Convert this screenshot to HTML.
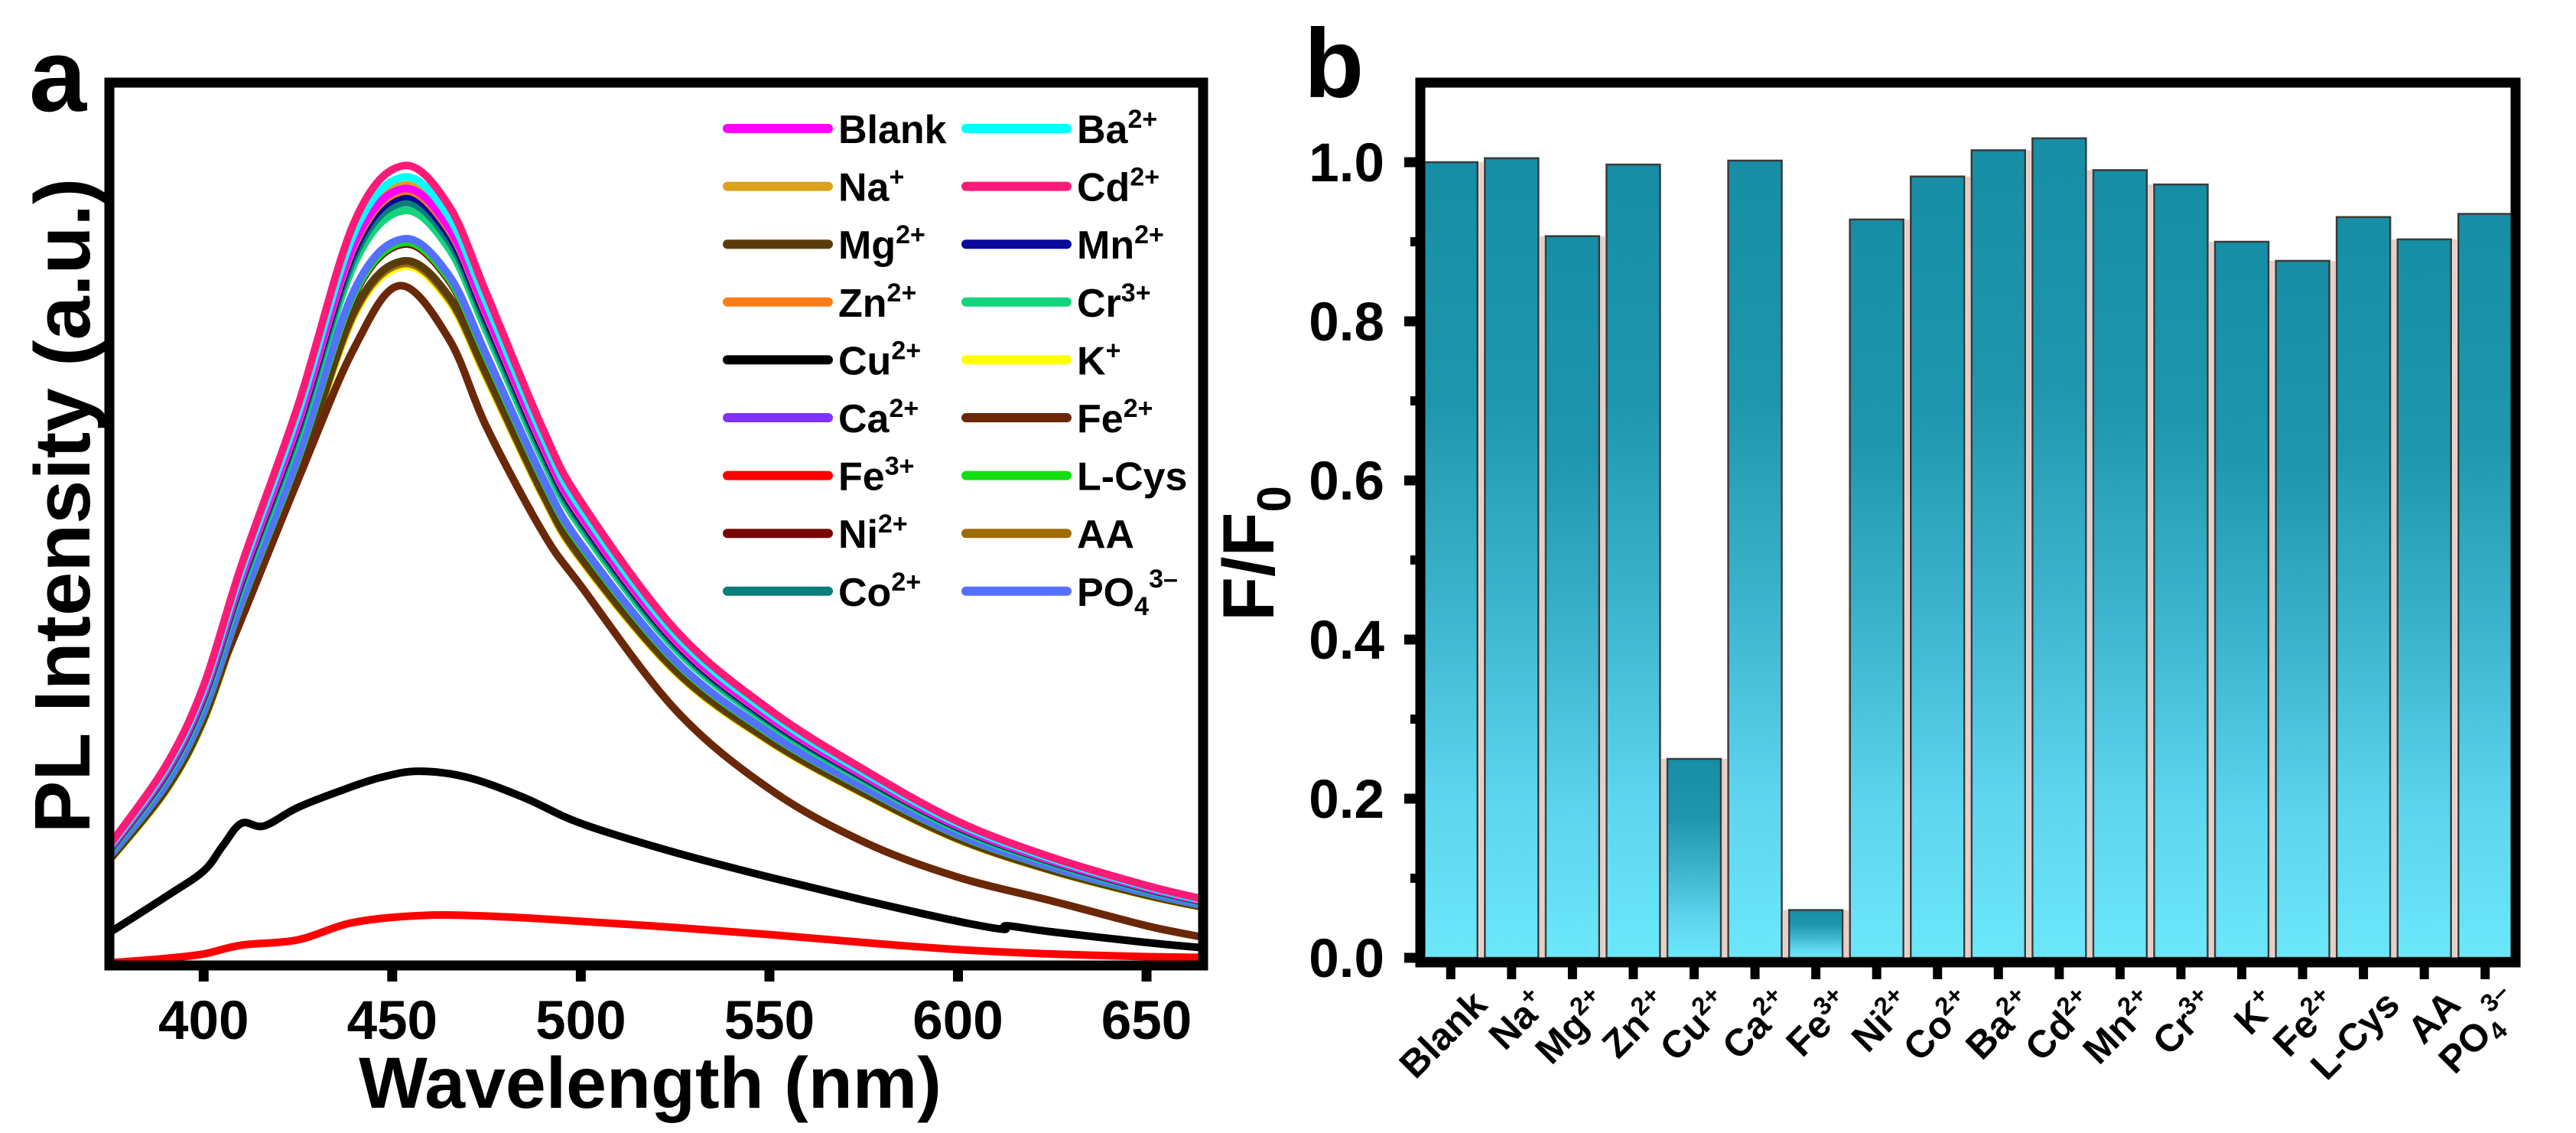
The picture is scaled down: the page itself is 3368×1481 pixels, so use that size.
<!DOCTYPE html>
<html><head><meta charset="utf-8">
<style>
html,body{margin:0;padding:0;background:#fff;}
svg{display:block;font-family:"Liberation Sans",Arial,sans-serif;font-weight:bold;}
</style></head>
<body>
<svg id="fig" width="3368" height="1481" viewBox="0 0 3368 1481" xmlns="http://www.w3.org/2000/svg">
<defs>
  <linearGradient id="barGrad" x1="0" y1="0" x2="0" y2="1">
    <stop offset="0" stop-color="#158ea6"/>
    <stop offset="0.3" stop-color="#1e97ae"/>
    <stop offset="0.55" stop-color="#3bb3cc"/>
    <stop offset="0.8" stop-color="#5dd5ee"/>
    <stop offset="1" stop-color="#6ce7fa"/>
  </linearGradient>
  <clipPath id="clipA"><rect x="143" y="108" width="1430" height="1150"/></clipPath>
</defs>
<rect width="3368" height="1481" fill="#fff"/>

<!-- Panel a -->
<text x="38" y="145" font-size="135">a</text>
<g id="spectra" clip-path="url(#clipA)"></g>
<rect x="143" y="108" width="1430" height="1154" fill="none" stroke="#000" stroke-width="13"/>
<g id="axA"></g>
<text x="850" y="1448" font-size="95" text-anchor="middle">Wavelength (nm)</text>
<text transform="translate(117,661) rotate(-90)" font-size="103" text-anchor="middle">PL Intensity (a.u.)</text>
<g id="legend"></g>

<!-- Panel b -->
<text x="1705" y="127" font-size="128">b</text>
<text transform="translate(1665,812) rotate(-90)" font-size="95">F/F<tspan dy="22" font-size="62">0</tspan></text>
<rect x="1863" y="200" width="1420" height="1052" fill="#ecd4cc" opacity="0"/>
<g id="bars"></g>
<rect x="1857" y="108" width="1432" height="1150" fill="none" stroke="#000" stroke-width="13"/>
<g id="axB"></g>
</svg>
<script>
// ---------- Panel a data ----------
const seriesNames = ["Blank","Na+","Mg2+","Zn2+","Cu2+","Ca2+","Fe3+","Ni2+","Co2+","Ba2+","Cd2+","Mn2+","Cr3+","K+","Fe2+","L-Cys","AA","PO43-"];
const seriesColors = ["#ff00ff","#dca21c","#5a3c0c","#ff7d18","#000000","#8030ff","#ff0000","#780404","#0a7e78","#00ffff","#ff1a78","#08089a","#14d47e","#ffff00","#6a2808","#12de12","#a06c08","#5470ff"];
const legendLabels = [["Blank",""],["Na","+"],["Mg","2+"],["Zn","2+"],["Cu","2+"],["Ca","2+"],["Fe","3+"],["Ni","2+"],["Co","2+"],["Ba","2+"],["Cd","2+"],["Mn","2+"],["Cr","3+"],["K","+"],["Fe","2+"],["L-Cys",""],["AA",""],["PO","3–","4"]];
const waveGrid = [375,390,400,410,425,440,453,465,475,490,500,525,550,575,600,625,650,665];
const baseShape = [0.15,0.25,0.35,0.50,0.70,0.93,1.0,0.95,0.84,0.67,0.58,0.42,0.32,0.245,0.18,0.135,0.10,0.083];
const peakValues = [88,88.4,79.8,87.7,0,88.2,0,81.7,86.4,89.3,90.6,87.1,85.5,79.2,0,81.9,79.5,82.3];
const fe2Wave = [375,390,400,425,440,452,465,475,490,500,525,550,575,600,625,650,665];
const fe2Vals = [13.5,22,29,55,70,77,71,61,49,43,29,20,14,10,7.3,4.5,3.2];
const cuWave = [375,390,400,405,410,416,425,437,447,457,470,485,500,525,550,575,600,612,613,625,650,665];
const cuVals = [3.7,7.8,10.7,13.5,16.1,15.8,17.9,19.9,21.3,22,21.3,19,16.1,12.8,10,7.4,5.0,4.1,4.5,3.8,2.6,2.0];
const fe3Wave = [375,390,400,410,425,440,460,480,500,525,550,575,600,625,650,665];
const fe3Vals = [0.3,0.8,1.3,2.3,2.9,4.9,5.7,5.5,5.0,4.3,3.5,2.6,1.8,1.3,1.0,0.9];
const xTicksA = [400,450,500,550,600,650];
const drawOrder = [13,16,2,14,7,15,17,12,8,11,5,1,3,0,9,10,4,6];

const NS="http://www.w3.org/2000/svg";
function mk(tag,attrs,parent){const e=document.createElementNS(NS,tag);for(const k in attrs)e.setAttribute(k,attrs[k]);parent.appendChild(e);return e;}
const xA = w => 143 + (w-375)*(1430/290);
const yA = v => 1262 - v*(1154/100);
function smoothPath(pts){
  let d="M"+pts[0][0].toFixed(1)+","+pts[0][1].toFixed(1);
  for(let i=0;i<pts.length-1;i++){
    const p0=pts[Math.max(0,i-1)],p1=pts[i],p2=pts[i+1],p3=pts[Math.min(pts.length-1,i+2)];
    const c1=[p1[0]+(p2[0]-p0[0])/6,p1[1]+(p2[1]-p0[1])/6];
    const c2=[p2[0]-(p3[0]-p1[0])/6,p2[1]-(p3[1]-p1[1])/6];
    d+=" C"+c1[0].toFixed(1)+","+c1[1].toFixed(1)+" "+c2[0].toFixed(1)+","+c2[1].toFixed(1)+" "+p2[0].toFixed(1)+","+p2[1].toFixed(1);
  }
  return d;
}
const spectra=document.getElementById("spectra");
drawOrder.forEach(i=>{
  let pts;
  if(i===4) pts=cuWave.map((w,k)=>[xA(w),yA(cuVals[k])]);
  else if(i===6) pts=fe3Wave.map((w,k)=>[xA(w),yA(fe3Vals[k])]);
  else if(i===14) pts=fe2Wave.map((w,k)=>[xA(w),yA(fe2Vals[k])]);
  else pts=waveGrid.map((w,k)=>[xA(w),yA(baseShape[k]*peakValues[i])]);
  const p=mk("path",{d:smoothPath(pts),fill:"none",stroke:seriesColors[i],"stroke-width":10,"stroke-linejoin":"round","stroke-linecap":"round"},spectra);
  
  
});
const axA=document.getElementById("axA");
xTicksA.forEach(t=>{
  const tk=mk("line",{x1:xA(t),x2:xA(t),y1:1262,y2:1283,stroke:"#000","stroke-width":13},axA);
  
  
  const tl=mk("text",{x:xA(t),y:1358,"font-size":71,"text-anchor":"middle"},axA);
  tl.textContent=t;
  
  
});
// legend
const legend=document.getElementById("legend");
legendLabels.forEach((lab,i)=>{
  const col=i<9?0:1,row=i%9;
  const lx=col?1263:951, ty=168+row*75.6;
  const g=mk("g",{},legend);
  
  
  mk("line",{x1:lx,x2:lx+132,y1:ty,y2:ty,stroke:seriesColors[i],"stroke-width":12,"stroke-linecap":"round"},g);
  const t=mk("text",{x:lx+145,y:ty+19,"font-size":52},g);
  t.appendChild(document.createTextNode(lab[0]));
  if(lab[2]){const s=mk("tspan",{dy:12,"font-size":34},t);s.textContent=lab[2];
    const s2=mk("tspan",{dy:-36,"font-size":34},t);s2.textContent=lab[1];}
  else if(lab[1]){const s=mk("tspan",{dy:-20,"font-size":34},t);s.textContent=lab[1];}
});

// ---------- Panel b data ----------
const barCategories = [["Blank",""],["Na","+"],["Mg","2+"],["Zn","2+"],["Cu","2+"],["Ca","2+"],["Fe","3+"],["Ni","2+"],["Co","2+"],["Ba","2+"],["Cd","2+"],["Mn","2+"],["Cr","3+"],["K","+"],["Fe","2+"],["L-Cys",""],["AA",""],["PO","3–","4"]];
const barValues = [1.0,1.005,0.907,0.997,0.25,1.002,0.06,0.928,0.982,1.015,1.03,0.99,0.972,0.90,0.876,0.931,0.903,0.935];
const yTicksB = [0.0,0.2,0.4,0.6,0.8,1.0];
const yTickLabelsB = ["0.0","0.2","0.4","0.6","0.8","1.0"];
const yMinorB = [0.1,0.3,0.5,0.7,0.9];

const pitch=(3289-1857)/barValues.length;
const xB = i => 1857 + (i+0.5)*pitch;
const yB = v => 1252 - v*1040;
const bars=document.getElementById("bars");
barValues.forEach((v,i)=>{
  if(i>0){
    const gp=mk("rect",{x:xB(i)-pitch/2-3,y:Math.max(yB(v),yB(barValues[i-1])),width:6,height:yB(0)-Math.max(yB(v),yB(barValues[i-1])),fill:"#e6cfc8"},bars);
    
    
  }
  const r=mk("rect",{x:xB(i)-35,y:yB(v),width:70,height:yB(0)-yB(v),fill:"url(#barGrad)",stroke:"#3a3a3a","stroke-width":2.5},bars);
  
  
});
const axB=document.getElementById("axB");
yTicksB.forEach((t,k)=>{
  const tk=mk("line",{x1:1836,x2:1857,y1:yB(t),y2:yB(t),stroke:"#000","stroke-width":13},axB);
  
  
  const tl=mk("text",{x:1810,y:yB(t)+25,"font-size":71,"text-anchor":"end"},axB);
  tl.textContent=yTickLabelsB[k];
  
  
});
yMinorB.forEach(t=>{
  const tk=mk("line",{x1:1844,x2:1857,y1:yB(t),y2:yB(t),stroke:"#000","stroke-width":12},axB);
  
  
});
barCategories.forEach((lab,i)=>{
  const cx=xB(i);
  const tk=mk("line",{x1:cx,x2:cx,y1:1258,y2:1280,stroke:"#000","stroke-width":12},axB);
  
  
  const t=mk("text",{transform:"translate("+(cx+50)+",1316) rotate(-45)","font-size":50,"text-anchor":"end"},axB);
  
  
  t.appendChild(document.createTextNode(lab[0]));
  if(lab[2]){const s=mk("tspan",{dy:10,"font-size":33},t);s.textContent=lab[2];
    const s2=mk("tspan",{dy:-34,"font-size":33},t);s2.textContent=lab[1];}
  else if(lab[1]){const s=mk("tspan",{dy:-19,"font-size":33},t);s.textContent=lab[1];}
});
</script>
</body></html>
